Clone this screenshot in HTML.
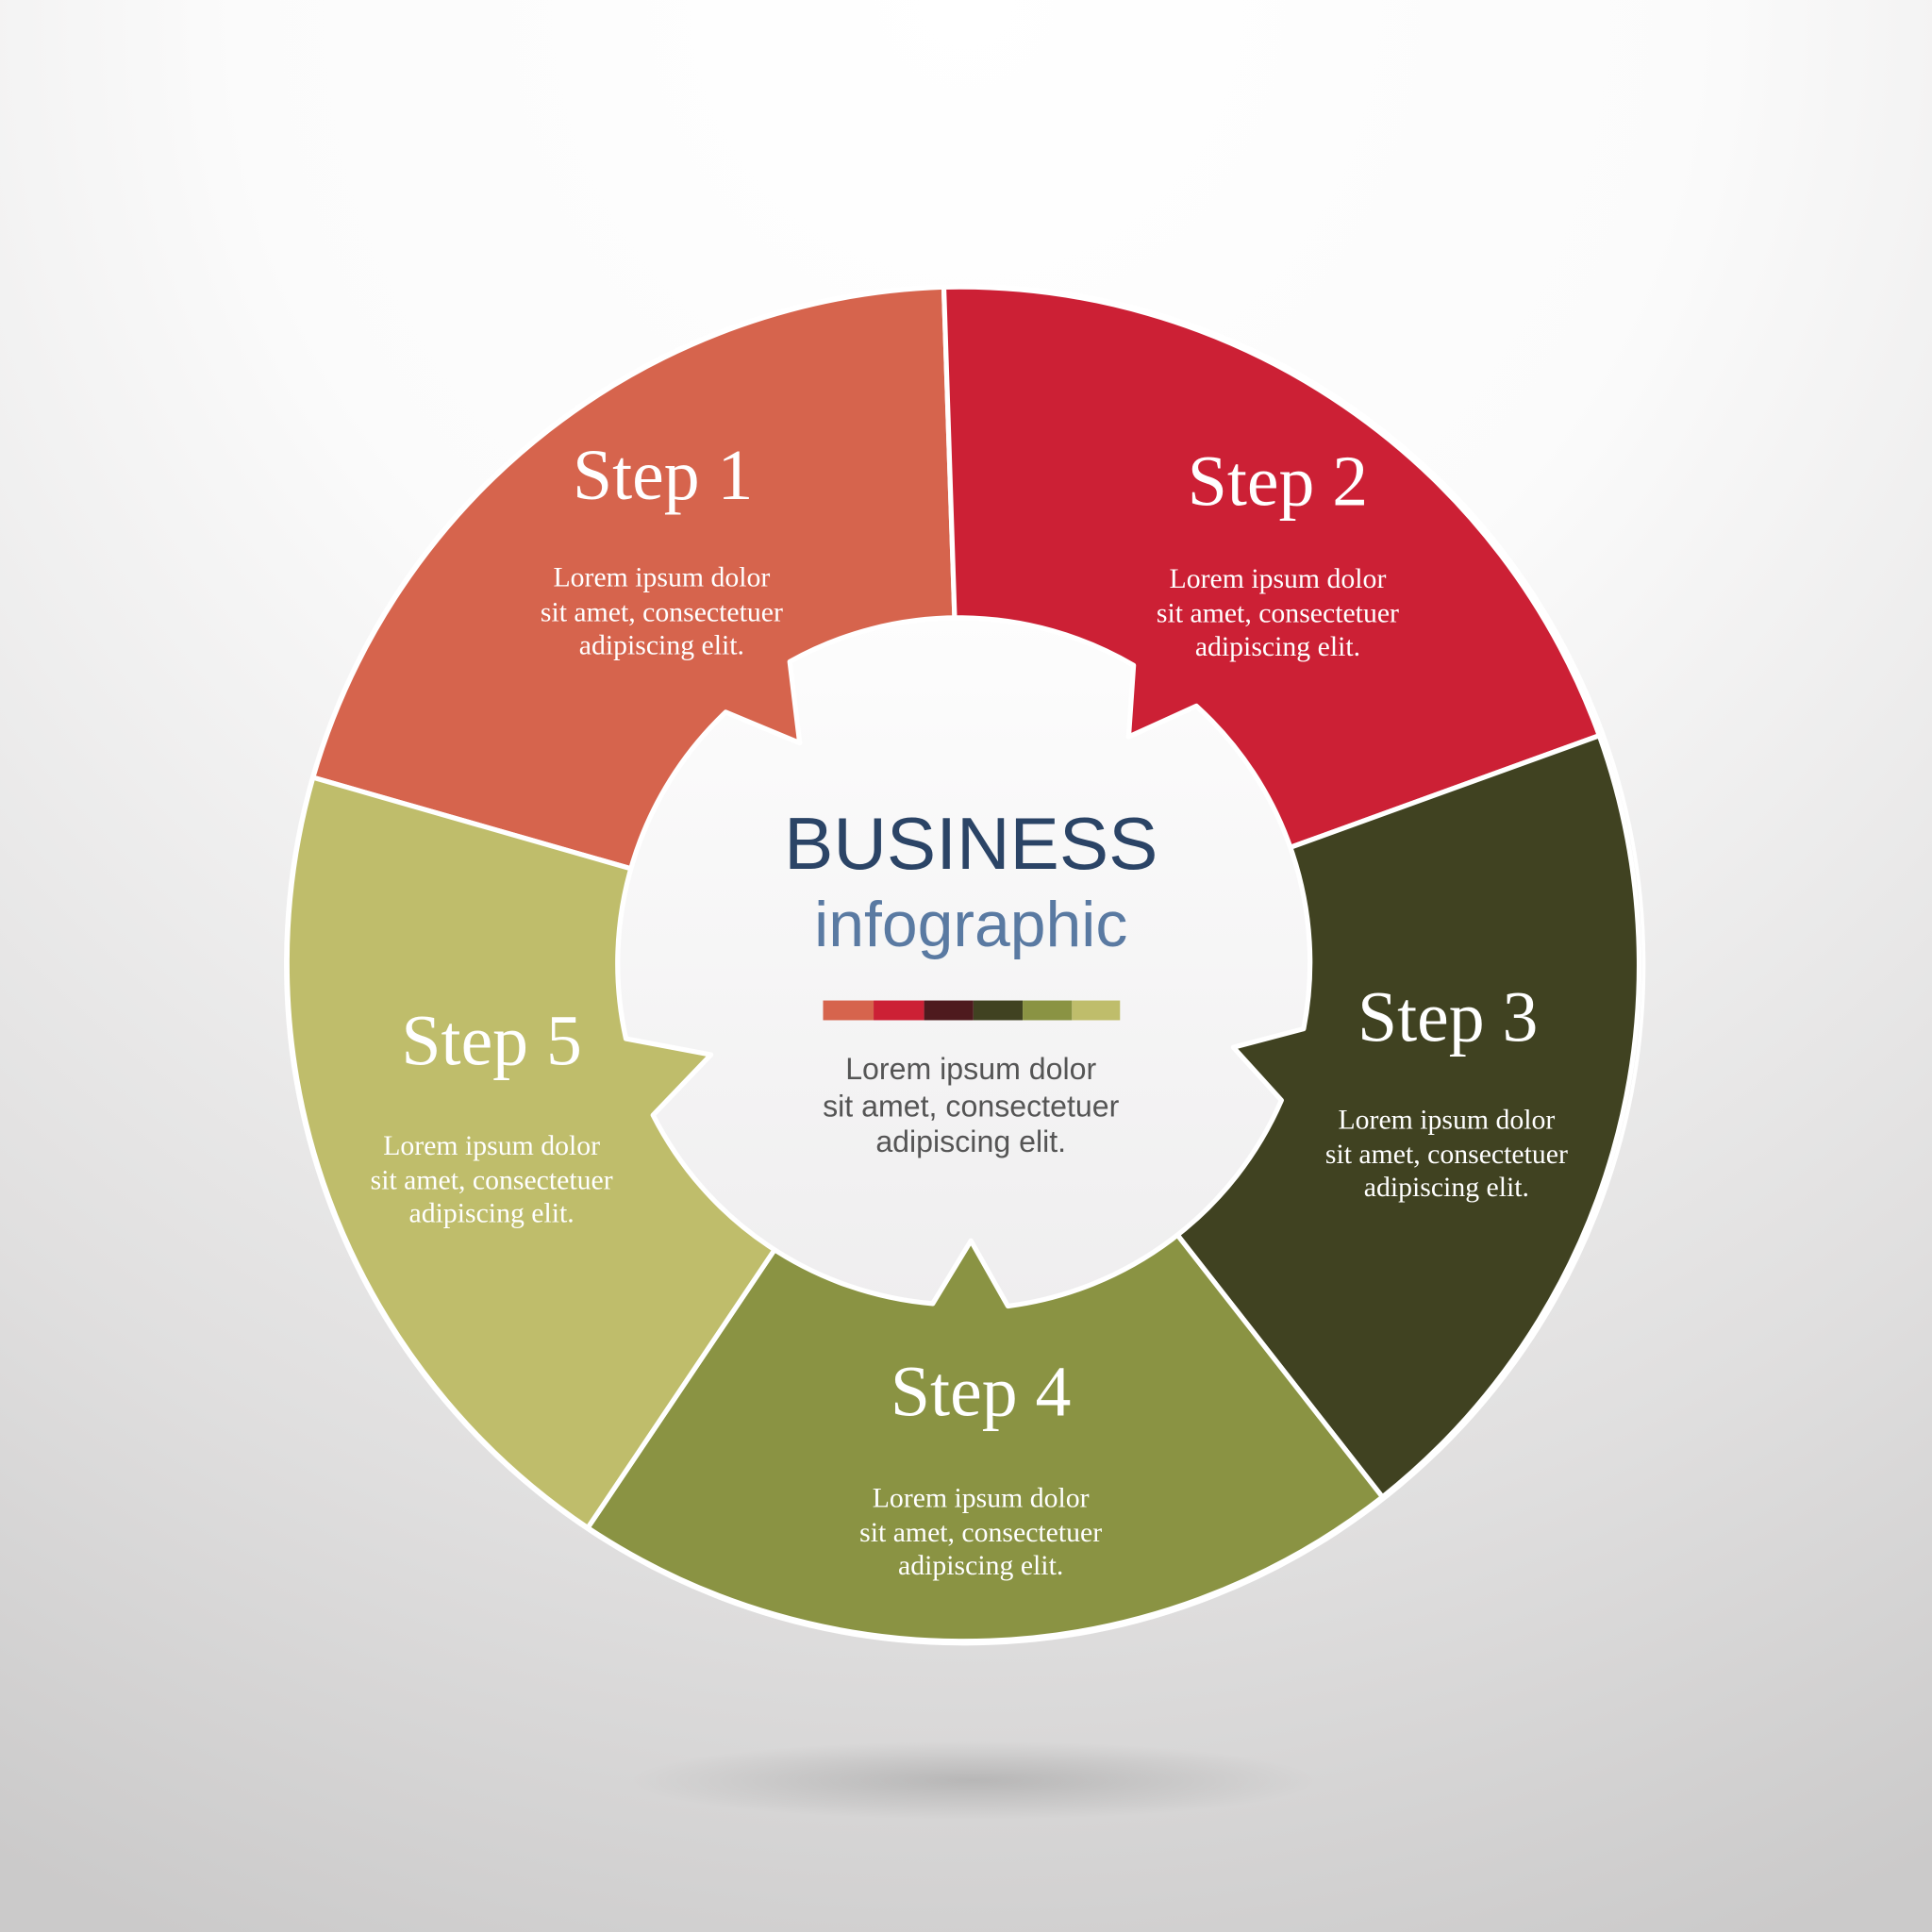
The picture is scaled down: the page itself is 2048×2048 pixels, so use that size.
<!DOCTYPE html>
<html><head><meta charset="utf-8"><style>
html,body{margin:0;padding:0;width:2048px;height:2048px;overflow:hidden}
svg{display:block}
.t{font-family:"Liberation Serif",serif;fill:#fff;text-anchor:middle}
.s{font-size:58px}
.b{font-size:22.8px}
.c{font-family:"Liberation Sans",sans-serif;text-anchor:middle}
</style></head><body>
<svg width="2048" height="2048" viewBox="0 0 1568 1568" xmlns="http://www.w3.org/2000/svg">
<defs>
<radialGradient id="bg" cx="784" cy="0" r="1700" gradientUnits="userSpaceOnUse">
<stop offset="0" stop-color="#ffffff"/><stop offset="0.35" stop-color="#fbfbfb"/><stop offset="0.75" stop-color="#e0dfdf"/><stop offset="1" stop-color="#cbcaca"/></radialGradient>
<linearGradient id="cg" x1="0" y1="0" x2="0" y2="1"><stop offset="0" stop-color="#fdfdfd"/><stop offset="1" stop-color="#efeeef"/></linearGradient>
<radialGradient id="sh" cx="0.5" cy="0.5" r="0.5"><stop offset="0" stop-color="#000" stop-opacity="0.15"/><stop offset="1" stop-color="#000" stop-opacity="0"/></radialGradient>
</defs>
<rect width="1568" height="1568" fill="url(#bg)"/>
<ellipse cx="790" cy="1445" rx="280" ry="32" fill="url(#sh)"/>
<g stroke="#fff" stroke-width="4" stroke-linejoin="round">
<path d="M784,783 L254,631 A552,552 0 0 1 766,233 Z" fill="#d6644d"/>
<path d="M784,783 L766,233 A552,552 0 0 1 1298,597 Z" fill="#cc2035"/>
<path d="M784,783 L1298,597 A552,552 0 0 1 1122,1215 Z" fill="#404221"/>
<path d="M784,783 L1122,1215 A552,552 0 0 1 477,1240 Z" fill="#8a9343"/>
<path d="M784,783 L477,1240 A552,552 0 0 1 254,631 Z" fill="#bfbd6b"/>
</g>
<circle cx="783" cy="783" r="551" fill="none" stroke="#fff" stroke-width="3"/>
<path d="M530,905 L577,856 L508,843 A281,281 0 0 1 589,578 L649,603 L641,537 A281,281 0 0 1 920,540 L916,598 L971,573 A281,281 0 0 1 1058,835 L1001,850 L1040,893 A281,281 0 0 1 818,1060 L788,1007 L757,1058 A281,281 0 0 1 530,905 Z" fill="url(#cg)" stroke="#fff" stroke-width="4" stroke-linejoin="round"/>
<text class="t s" x="538" y="405">Step 1</text>
<text class="t b" x="537" y="476">Lorem ipsum dolor</text>
<text class="t b" x="537" y="504">sit amet, consectetuer</text>
<text class="t b" x="537" y="531">adipiscing elit.</text>
<text class="t s" x="1037" y="410">Step 2</text>
<text class="t b" x="1037" y="477">Lorem ipsum dolor</text>
<text class="t b" x="1037" y="505">sit amet, consectetuer</text>
<text class="t b" x="1037" y="532">adipiscing elit.</text>
<text class="t s" x="1175" y="845">Step 3</text>
<text class="t b" x="1174" y="916">Lorem ipsum dolor</text>
<text class="t b" x="1174" y="944">sit amet, consectetuer</text>
<text class="t b" x="1174" y="971">adipiscing elit.</text>
<text class="t s" x="796" y="1149">Step 4</text>
<text class="t b" x="796" y="1223">Lorem ipsum dolor</text>
<text class="t b" x="796" y="1251">sit amet, consectetuer</text>
<text class="t b" x="796" y="1278">adipiscing elit.</text>
<text class="t s" x="399" y="864">Step 5</text>
<text class="t b" x="399" y="937">Lorem ipsum dolor</text>
<text class="t b" x="399" y="965">sit amet, consectetuer</text>
<text class="t b" x="399" y="992">adipiscing elit.</text>
<text class="c" x="788" y="705" font-size="60" fill="#2b4466">BUSINESS</text>
<text class="c" x="788" y="768" font-size="52" fill="#5a7aa2">infographic</text>
<rect x="668" y="812" width="41" height="16" fill="#d6644d"/>
<rect x="709" y="812" width="41" height="16" fill="#cc2035"/>
<rect x="750" y="812" width="40" height="16" fill="#4e1a1e"/>
<rect x="790" y="812" width="40" height="16" fill="#404221"/>
<rect x="830" y="812" width="40" height="16" fill="#8a9343"/>
<rect x="870" y="812" width="39" height="16" fill="#bfbd6b"/>
<text class="c" x="788" y="876" font-size="24.6" fill="#555">Lorem ipsum dolor</text>
<text class="c" x="788" y="906" font-size="24.6" fill="#555">sit amet, consectetuer</text>
<text class="c" x="788" y="935" font-size="24.6" fill="#555">adipiscing elit.</text>
</svg>
</body></html>
